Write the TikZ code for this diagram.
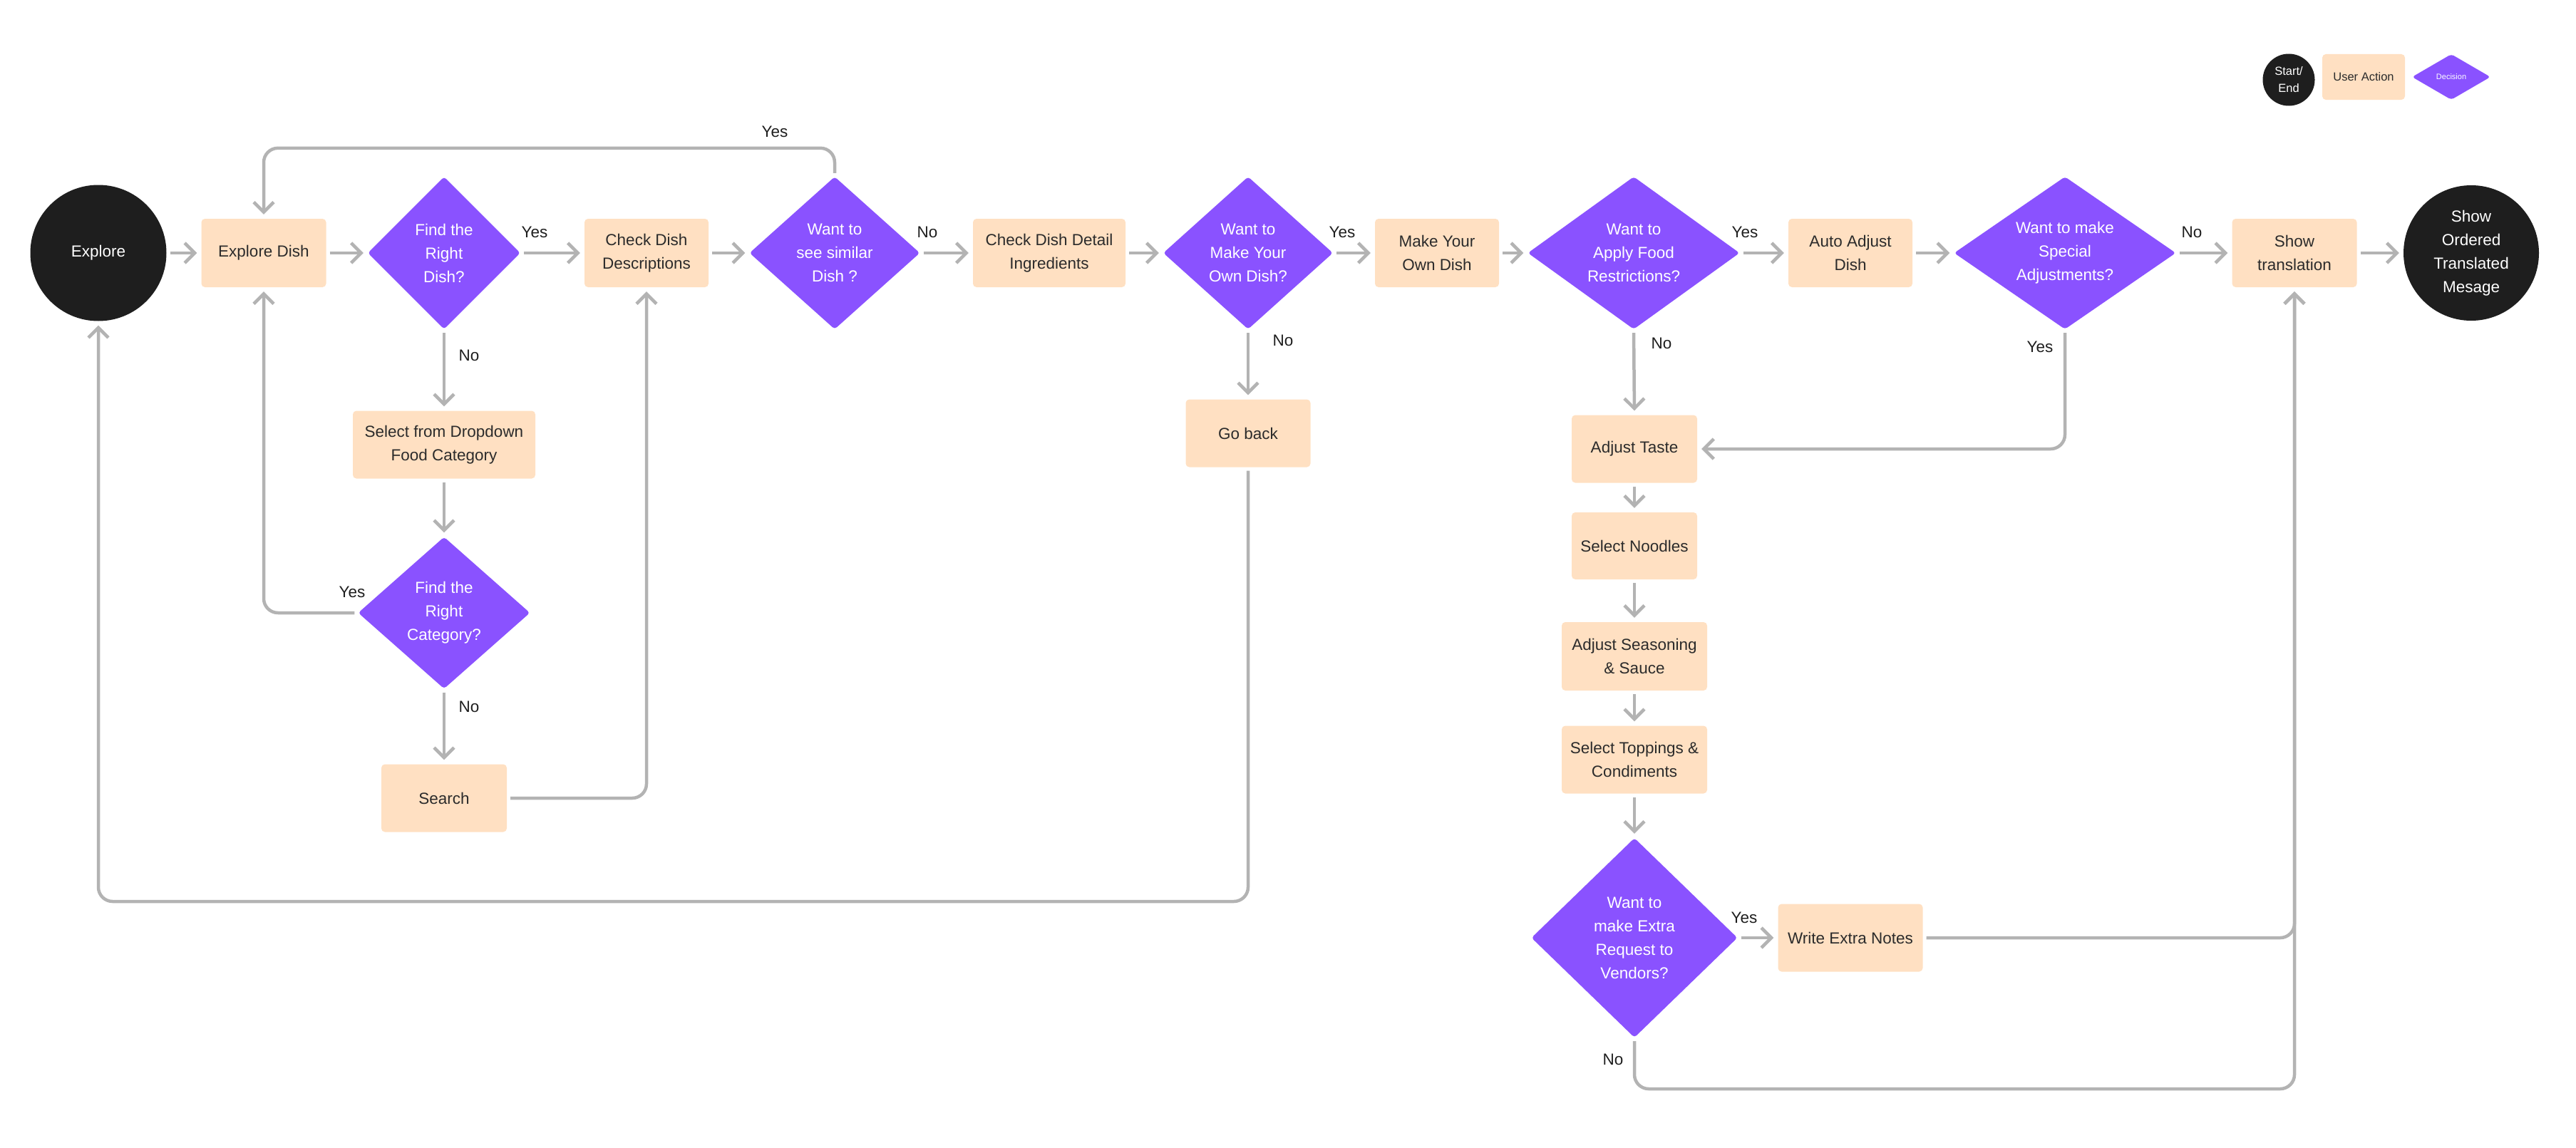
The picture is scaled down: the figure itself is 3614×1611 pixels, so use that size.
\documentclass[tikz,border=0pt]{standalone}
\usepackage{fontspec}
\setmainfont{Liberation Sans}
\usetikzlibrary{shapes.geometric,arrows.meta}
\definecolor{endblack}{HTML}{1E1E1E}
\definecolor{actbeige}{HTML}{FFE0C2}
\definecolor{decpurple}{HTML}{8A52FF}
\definecolor{flowgrey}{HTML}{B3B3B3}
\definecolor{txtdark}{HTML}{2B2B2B}
\begin{document}
\begin{tikzpicture}[x=1pt,y=-1pt,
  every node/.style={font=\fontsize{22.5}{33}\selectfont},
  terminal/.style={circle,fill=endblack,text=white,minimum size=191pt,inner sep=0pt,align=center},
  action/.style={rectangle,rounded corners=5pt,fill=actbeige,text=txtdark,minimum height=96pt,inner sep=0pt,align=center},
  decision/.style={diamond,fill=decpurple,text=white,rounded corners=4pt,inner sep=0pt,align=center,minimum height=214pt},
  flow/.style={draw=flowgrey,line width=4.5pt,rounded corners=20pt,-{Straight Barb[length=14pt,width=28pt]},shorten <=5pt,shorten >=6pt},
  answer/.style={text=endblack}]
\useasboundingbox (0,0) rectangle (3614,1611);
% Legend
\node[terminal,minimum size=73pt,font=\fontsize{16.5}{24}\selectfont] (keyend) at (3211,112) {Start/\\End};
\node[action,minimum width=116pt,minimum height=64pt,font=\fontsize{16.5}{24}\selectfont] (keyact) at (3316,108) {User Action};
\node[decision,minimum width=110pt,minimum height=64pt,shape aspect=1.72,font=\fontsize{11}{13}\selectfont] (keydec) at (3439,108) {Decision};
% Main row
\node[terminal] (explore) at (138,355) {Explore};
\node[action,minimum width=175pt] (exdish) at (370,355) {Explore Dish};
\node[decision,minimum width=214pt] (rightdish) at (623,355) {Find the\\Right\\Dish?};
\node[action,minimum width=174pt] (descr) at (907,355) {Check Dish\\Descriptions};
\node[decision,minimum width=239pt,shape aspect=1.12] (similar) at (1171,355) {Want to\\see similar\\Dish ?};
\node[action,minimum width=214pt] (ingred) at (1472,355) {Check Dish Detail\\Ingredients};
\node[decision,minimum width=238pt,shape aspect=1.11] (ownq) at (1751,355) {Want to\\Make Your\\Own Dish?};
\node[action,minimum width=174pt] (ownd) at (2016,355) {Make Your\\Own Dish};
\node[decision,minimum width=297pt,shape aspect=1.39] (restrq) at (2292,355) {Want to\\Apply Food\\Restrictions?};
\node[action,minimum width=174pt] (autoadj) at (2596,355) {Auto Adjust\\Dish};
\node[decision,minimum width=311pt,shape aspect=1.45] (specq) at (2897,355) {Want to make\\Special\\Adjustments?};
\node[action,minimum width=175pt] (transl) at (3219,355) {Show\\translation};
\node[terminal,minimum size=190pt] (finish) at (3467,355) {Show\\Ordered\\Translated\\Mesage};
% Category branch
\node[action,minimum width=256pt,minimum height=95pt] (dropdown) at (623,624) {Select from Dropdown\\Food Category};
\node[decision,minimum width=241pt,minimum height=213pt,shape aspect=1.13] (catq) at (623,860) {Find the\\Right\\Category?};
\node[action,minimum width=176pt,minimum height=95pt] (search) at (623,1120) {Search};
\node[action,minimum width=175pt,minimum height=95pt] (goback) at (1751,608) {Go back};
% Own dish column
\node[action,minimum width=176pt,minimum height=95pt] (taste) at (2293,630) {Adjust Taste};
\node[action,minimum width=176pt,minimum height=94pt] (noodle) at (2293,766) {Select Noodles};
\node[action,minimum width=204pt] (season) at (2293,921) {Adjust Seasoning\\\& Sauce};
\node[action,minimum width=204pt,minimum height=95pt] (topping) at (2293,1066) {Select Toppings \&\\Condiments};
\node[decision,minimum width=289pt,minimum height=280pt,shape aspect=1.03] (extraq) at (2293,1316) {Want to\\make Extra\\Request to\\Vendors?};
\node[action,minimum width=203pt,minimum height=95pt] (notes) at (2596,1316) {Write Extra Notes};
% Flow along the main row
\draw[flow] (explore.east) -- (exdish.west);
\draw[flow] (exdish.east) -- (rightdish.west);
\draw[flow] (rightdish.east) -- (descr.west);
\draw[flow] (descr.east) -- (similar.west);
\draw[flow] (similar.east) -- (ingred.west);
\draw[flow] (ingred.east) -- (ownq.west);
\draw[flow] (ownq.east) -- (ownd.west);
\draw[flow] (ownd.east) -- (restrq.west);
\draw[flow] (restrq.east) -- (autoadj.west);
\draw[flow] (autoadj.east) -- (specq.west);
\draw[flow] (specq.east) -- (transl.west);
\draw[flow] (transl.east) -- (finish.west);
% Loops back
\draw[flow] (similar.north) -- ++(0,-40) -| (exdish.north);
\draw[flow] (rightdish.south) -- (dropdown.north);
\draw[flow] (dropdown.south) -- (catq.north);
\draw[flow] (catq.west) -| (exdish.south);
\draw[flow] (catq.south) -- (search.north);
\draw[flow] (search.east) -| (descr.south);
\draw[flow] (ownq.south) -- (goback.north);
\draw[flow] (goback.south) |- (explore.south |- 0,1265) -- (explore.south);
% Own dish steps
\draw[flow] (restrq.south) -- (taste.north);
\draw[flow] (specq.south) |- (taste.east);
\draw[flow] (taste.south) -- (noodle.north);
\draw[flow] (noodle.south) -- (season.north);
\draw[flow] (season.south) -- (topping.north);
\draw[flow] (topping.south) -- (extraq.north);
\draw[flow] (extraq.east) -- (notes.west);
\draw[flow] (notes.east) -| (transl.south);
\draw[flow] (extraq.south) |- (transl.south |- 0,1528) -- (transl.south);
% Answers
\node[answer] (yesa) at (750,326) {Yes};
\node[answer] (noa) at (1301,326) {No};
\node[answer] (yesb) at (1087,185) {Yes};
\node[answer] (nob) at (658,499) {No};
\node[answer] (yesc) at (494,831) {Yes};
\node[answer] (noc) at (658,992) {No};
\node[answer] (yesd) at (1883,326) {Yes};
\node[answer] (nod) at (1800,478) {No};
\node[answer] (yese) at (2448,326) {Yes};
\node[answer] (noe) at (2331,482) {No};
\node[answer] (nof) at (3075,326) {No};
\node[answer] (yesf) at (2862,487) {Yes};
\node[answer] (yesg) at (2447,1288) {Yes};
\node[answer] (nog) at (2263,1487) {No};
\end{tikzpicture}
\end{document}
